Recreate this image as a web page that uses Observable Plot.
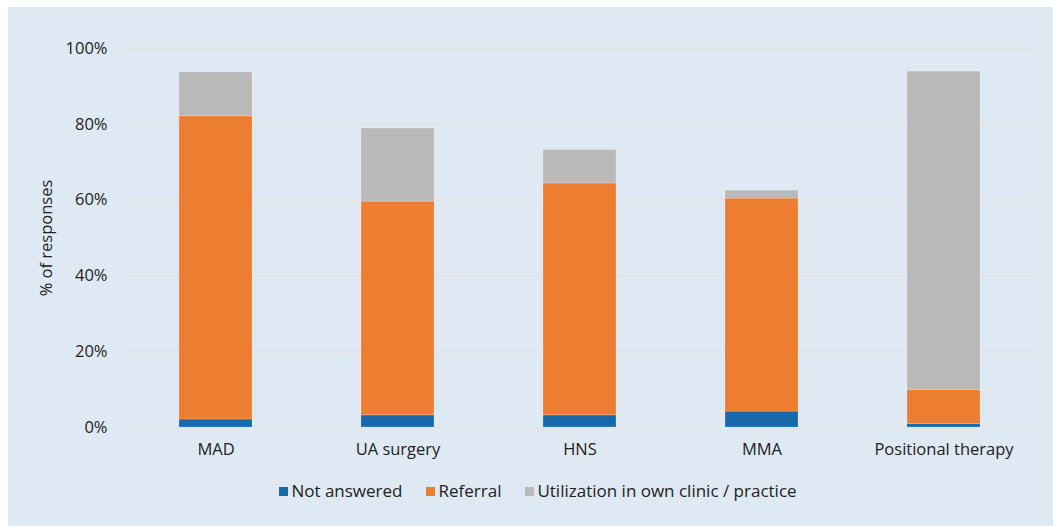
<!DOCTYPE html>
<html>
<head>
<meta charset="utf-8">
<script src="https://cdn.jsdelivr.net/npm/d3@7"></script>
<script src="https://cdn.jsdelivr.net/npm/@observablehq/plot@0.6"></script>
<style>
  html, body { margin: 0; padding: 0; background: #ffffff; }
  #panel { position: absolute; left: 8px; top: 7px; width: 1045px; height: 519px; background: #dfe9f3; font-family: "Open Sans", sans-serif; }
  #legend { position: absolute; top: 474px; left: 15px; right: 0; display: flex; justify-content: center; gap: 24px; font-size: 17px; color: #222; line-height: 20px; }
  .item { display: flex; align-items: center; }
  .sw { width: 9px; height: 9px; margin-right: 3px; display: inline-block; }
</style>
</head>
<body>
<div id="panel"><div id="chart"></div><div id="legend"></div></div>
<script>
const categories = ["MAD", "UA surgery", "HNS", "MMA", "Positional therapy"];
const seriesNames = ["Not answered", "Referral", "Utilization in own clinic / practice"];
const notAnswered = [2.1, 3.2, 3.2, 4.2, 0.9];
const referral = [80.0, 56.4, 61.2, 56.2, 9.0];
const utilization = [11.6, 19.3, 8.8, 2.1, 84.0];
const colors = ["#1769aa", "#ed7d31", "#b9b9b9"];
const yTicks = [0, 20, 40, 60, 80, 100];

const seriesValues = [notAnswered, referral, utilization];
const data = [];
categories.forEach((c, i) => {
  seriesNames.forEach((s, j) => data.push({category: c, series: s, value: seriesValues[j][i]}));
});

const chart = Plot.plot({
  width: 1045,
  height: 465,
  marginLeft: 115,
  marginRight: 17,
  marginTop: 41,
  marginBottom: 45,
  style: {fontFamily: "'Open Sans', sans-serif", fontSize: "16.5px", color: "#222", background: "transparent"},
  x: {domain: categories, paddingInner: 0.6, paddingOuter: 0.3, label: null},
  y: {domain: [0, 100], label: null},
  color: {domain: seriesNames, range: colors},
  marks: [
    Plot.gridY(yTicks, {stroke: "#e3e3e3", strokeOpacity: 1, strokeWidth: 2}),
    Plot.barY(data, {x: "category", y: "value", fill: "series", order: null, inset: 0, stroke: "#ffffff", strokeOpacity: 0.2, strokeWidth: 1}),
    Plot.axisX({tickSize: 0, tickPadding: 16, fontSize: 16.5, label: null}),
    Plot.axisY(yTicks, {tickSize: 0, tickPadding: 16, fontSize: 16.5, tickFormat: d => d + "%", label: "% of responses", labelAnchor: "center", labelArrow: "none", labelOffset: 83})
  ]
});
document.getElementById("chart").appendChild(chart);

const legend = document.getElementById("legend");
seriesNames.forEach((s, j) => {
  const it = document.createElement("span");
  it.className = "item";
  const sw = document.createElement("span");
  sw.className = "sw";
  sw.style.background = colors[j];
  it.appendChild(sw);
  it.appendChild(document.createTextNode(s));
  legend.appendChild(it);
});
</script>
</body>
</html>
